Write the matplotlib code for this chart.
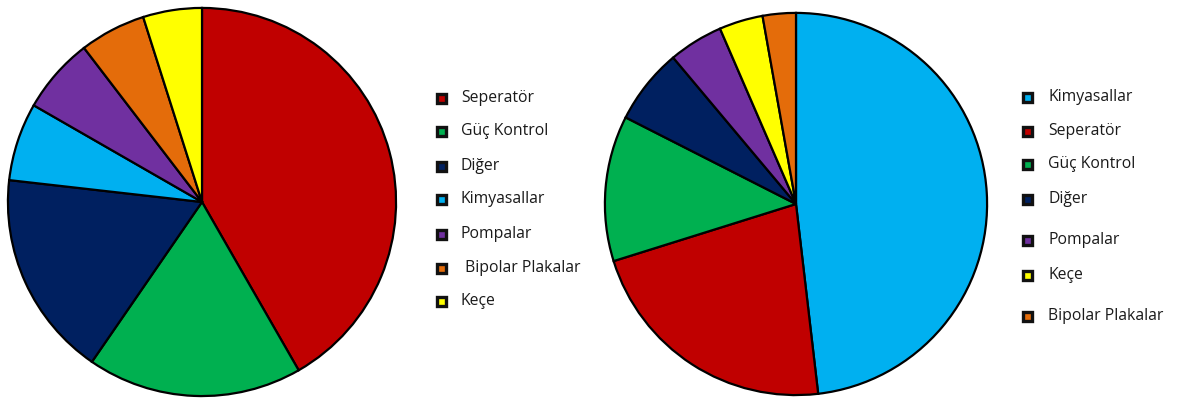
import matplotlib
matplotlib.use("Agg")
import matplotlib.pyplot as plt
from matplotlib.patches import Rectangle

plt.rcParams['font.family'] = ['Open Sans', 'DejaVu Sans']

# Left chart: shares by component
left_labels = ["Seperatör", "Güç Kontrol", "Diğer", "Kimyasallar", "Pompalar", " Bipolar Plakalar", "Keçe"]
left_values = [41.7, 17.9, 17.2, 6.5, 6.3, 5.5, 4.9]
left_colors = ["#C00000", "#00B050", "#002060", "#00B0F0", "#7030A0", "#E46C0A", "#FFFF00"]

# Right chart: shares by component
right_labels = ["Kimyasallar", "Seperatör", "Güç Kontrol", "Diğer", "Pompalar", "Keçe", "Bipolar Plakalar"]
right_values = [48.1, 22.0, 12.3, 6.4, 4.6, 3.7, 2.8]
right_colors = ["#00B0F0", "#C00000", "#00B050", "#002060", "#7030A0", "#FFFF00", "#E46C0A"]

W, H = 1181, 400
fig = plt.figure(figsize=(W / 100, H / 100), dpi=100)
fig.patch.set_facecolor("white")


def pie_axes(cx, cy, r):
    return fig.add_axes([(cx - r) / W, (H - cy - r) / H, 2 * r / W, 2 * r / H])


def draw_pie(ax, values, colors):
    ax.pie(values, colors=colors, startangle=90, counterclock=False, radius=1.0,
           wedgeprops=dict(edgecolor="black", linewidth=1.6))
    ax.set_xlim(-1.01, 1.01)
    ax.set_ylim(-1.01, 1.01)
    ax.set_aspect("equal")
    ax.axis("off")


def draw_legend(labels, colors, x_mark, x_text, ys):
    for lab, col, y in zip(labels, colors, ys):
        s = 9
        fig.patches.append(Rectangle(((x_mark - s / 2) / W, (H - y - s / 2) / H), s / W, s / H,
                                     transform=fig.transFigure, facecolor=col,
                                     edgecolor="#111111", linewidth=2.4))
        fig.text(x_text / W, (H - y) / H, lab, fontsize=11.3, va="center", ha="left", color="#1a1a1a")


draw_pie(pie_axes(202, 202, 196), left_values, left_colors)
draw_pie(pie_axes(796, 204, 193), right_values, right_colors)

draw_legend(left_labels, left_colors, 441, 461, [98, 131, 166, 199, 234, 268, 301])
draw_legend(right_labels, right_colors, 1027, 1048, [97, 131, 164, 199, 240, 275, 316])

fig.savefig("out.png", dpi=100, facecolor="white")
